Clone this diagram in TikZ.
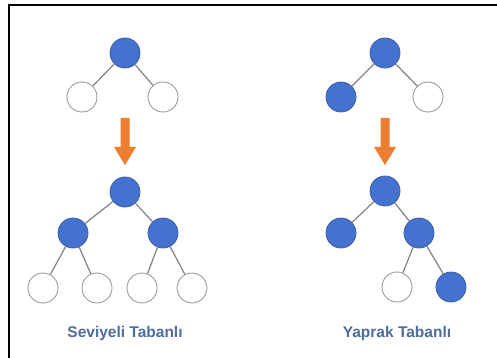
\documentclass[tikz,border=0pt]{standalone}
\usepackage{fontspec}
\setmainfont{Liberation Sans}
\begin{document}
\begin{tikzpicture}[x=1pt,y=-1pt]
\definecolor{nodeblue}{RGB}{68,114,206}
\definecolor{nodeedge}{RGB}{60,95,170}
\definecolor{edgegray}{RGB}{130,130,130}
\definecolor{arroworange}{RGB}{237,125,49}
\definecolor{labelblue}{RGB}{78,108,158}
\tikzset{
  full/.style={circle,minimum size=30pt,inner sep=0pt,fill=nodeblue,draw=nodeedge,line width=0.8pt},
  empty/.style={circle,minimum size=30pt,inner sep=0pt,fill=white,draw=edgegray!80,line width=0.9pt},
  link/.style={draw=edgegray,line width=1.2pt},
  bigarrow/.style={fill=arroworange},
  lbl/.style={font=\fontsize{15.5}{18}\selectfont\bfseries,text=labelblue},
  frameline/.style={draw=black,line width=2pt}
}
\useasboundingbox (0,0) rectangle (497,358);
\fill[white] (0,0) rectangle (497,358);
\draw[frameline] (9,358) -- (9,5) -- (497,5);

% left top tree
\node[full] (la) at (125,53) {};
\node[empty] (lb) at (82,97) {};
\node[empty] (lc) at (163,97) {};
\draw[link] (la) -- (lb);
\draw[link] (la) -- (lc);

% right top tree
\node[full] (ra) at (385,53) {};
\node[full] (rb) at (341,97) {};
\node[empty] (rc) at (428,97) {};
\draw[link] (ra) -- (rb);
\draw[link] (ra) -- (rc);

% arrows
\fill[bigarrow] (120.5,118) -- (129.5,118) -- (129.5,147) -- (136,147) -- (125,165) -- (114,147) -- (120.5,147) -- cycle;
\fill[bigarrow] (380.5,118) -- (389.5,118) -- (389.5,147) -- (396,147) -- (385,165) -- (374,147) -- (380.5,147) -- cycle;

% left bottom tree
\node[full] (sa) at (125,192) {};
\node[full] (sb) at (73,233) {};
\node[full] (sc) at (163,233) {};
\node[empty] (sd) at (43,288) {};
\node[empty] (se) at (97,288) {};
\node[empty] (sf) at (142,288) {};
\node[empty] (sg) at (192,288) {};
\draw[link] (sa) -- (sb);
\draw[link] (sa) -- (sc);
\draw[link] (sb) -- (sd);
\draw[link] (sb) -- (se);
\draw[link] (sc) -- (sf);
\draw[link] (sc) -- (sg);

% right bottom tree
\node[full] (ya) at (385,191) {};
\node[full] (yb) at (341,233) {};
\node[full] (yc) at (419,233) {};
\node[empty] (yd) at (397,287) {};
\node[full] (ye) at (451,287) {};
\draw[link] (ya) -- (yb);
\draw[link] (ya) -- (yc);
\draw[link] (yc) -- (yd);
\draw[link] (yc) -- (ye);

% labels
\node[lbl] (lt) at (125,333) {Seviyeli Tabanlı};
\node[lbl] (rt) at (397,333) {Yaprak Tabanlı};
\end{tikzpicture}
\end{document}
